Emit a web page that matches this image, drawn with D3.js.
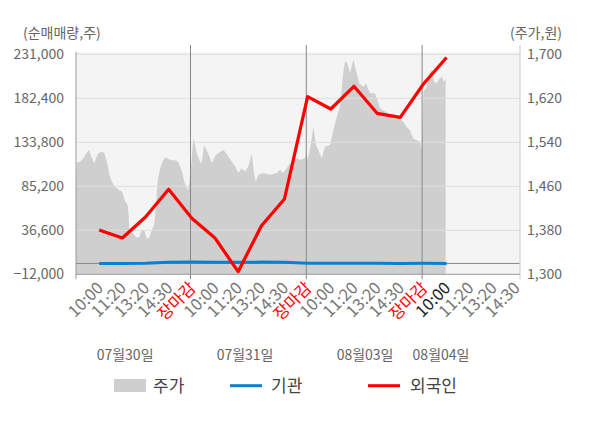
<!DOCTYPE html>
<html><head><meta charset="utf-8">
<script src="https://cdn.jsdelivr.net/npm/d3@7"></script>
<style>
body{margin:0;background:#fff;}
svg{font-family:"Noto Sans CJK KR","Noto Sans",sans-serif;}
</style></head>
<body>
<svg id="c" width="600" height="428"></svg>
<script>
// ---- data ----
const timeLabels = ["10:00","11:20","13:20","14:30","장마감","10:00","11:20","13:20","14:30","장마감","10:00","11:20","13:20","14:30","장마감","10:00","11:20","13:20","14:30"];
const dateLabels = ["07월30일","07월31일","08월03일","08월04일"];
const dateLabelPos = [2.12, 7.3, 12.48, 15.76];
const daySeparators = [5, 10, 15];
const foreignNet = [36900, 28100, 51300, 81900, 49850, 28100, -9100, 41350, 71170, 184160, 170570, 195650, 165820, 161410, 198200, 227500];
const instNet = [-200, 0, 100, 1300, 1500, 1400, 1200, 1500, 1300, 300, 200, 200, 100, 0, 100, 0];
const leftTicks = [-12000, 36600, 85200, 133800, 182400, 231000];
const rightTicks = [1300, 1380, 1460, 1540, 1620, 1700];
const priceU = [0,0.04,0.17,0.26,0.35,0.43,0.56,0.65,0.79,0.89,0.99,1.08,1.22,1.37,1.44,1.55,1.65,1.8,1.99,2.13,2.23,2.28,2.3,2.45,2.59,2.73,2.81,2.95,3.05,3.16,3.28,3.38,3.45,3.53,3.63,3.74,3.86,4,4.2,4.32,4.43,4.58,4.68,4.82,4.89,
 5,5.06,5.14,5.21,5.35,5.43,5.53,5.64,5.76,5.86,6,6.14,6.36,6.43,6.58,6.72,6.87,7.01,7.15,7.3,7.44,7.59,7.69,7.76,7.87,8.09,8.38,8.67,8.81,8.92,9.1,9.24,9.38,9.53,9.67,9.88,9.96,
 10,10.1,10.25,10.36,10.46,10.61,10.75,10.97,11.11,11.26,11.4,11.52,11.61,11.71,11.83,11.97,12.09,12.23,12.41,12.52,12.69,12.91,13.13,13.34,13.56,13.77,13.99,14.13,14.28,14.42,14.56,14.71,14.85,14.93,
 15,15.14,15.25,15.35,15.46,15.57,15.69,15.8,15.87,15.96];
const priceV = [1473,1504,1504,1508,1513,1519,1526,1515,1502,1514,1521,1523,1521,1499,1481,1468,1461,1455,1450,1432,1426,1405,1377,1375,1368,1367,1379,1379,1365,1366,1381,1390,1423,1471,1493,1505,1513,1509,1507,1508,1502,1487,1468,1453,1465,
 1511,1547,1535,1520,1505,1502,1535,1526,1514,1502,1514,1520,1526,1523,1514,1505,1496,1484,1493,1487,1496,1520,1481,1468,1481,1484,1481,1484,1490,1484,1493,1502,1505,1511,1508,1511,1520,
 1508,1526,1568,1535,1526,1511,1532,1535,1562,1587,1605,1659,1687,1684,1665,1690,1671,1647,1641,1647,1629,1629,1602,1596,1590,1584,1584,1577,1568,1562,1547,1544,1541,1526,
 1632,1641,1665,1671,1650,1647,1656,1659,1650,1655];

// ---- layout ----
const L = 76, R = 520, T = 54.3, B = 274.3;
const svg = d3.select("#c");
const x = d3.scaleLinear().domain([0, 19.17]).range([L, R]);
const yL = d3.scaleLinear().domain([-12000, 231000]).range([B, T]);
const yR = d3.scaleLinear().domain([1300, 1700]).range([B, T]);
const txt = "#666";

svg.append("rect").attr("x", L).attr("y", 52).attr("width", R - L).attr("height", B - 52).attr("fill", "#f4f4f4");

// price area
const price = priceU.map((u, i) => ({u, v: priceV[i]}));
svg.append("path").datum(price)
  .attr("fill", "#cfcfcf")
  .attr("d", d3.area().x(d => x(d.u)).y0(B).y1(d => yR(d.v)));

// gridlines
svg.append("g").selectAll("line").data(leftTicks.slice(1)).join("line")
  .attr("x1", L).attr("x2", R).attr("y1", d => yL(d)).attr("y2", d => yL(d))
  .attr("stroke", "#dedede").attr("stroke-width", 1);

// zero line
svg.append("line").attr("x1", L).attr("x2", R).attr("y1", yL(0)).attr("y2", yL(0)).attr("stroke", "#888");

// day separators
svg.append("g").selectAll("line").data(daySeparators).join("line")
  .attr("x1", d => x(d) - 1.3).attr("x2", d => x(d) - 1.3).attr("y1", 45).attr("y2", B + 5)
  .attr("stroke", "#888");

// axes lines
svg.append("line").attr("x1", L).attr("x2", L).attr("y1", 52).attr("y2", B + 5).attr("stroke", "#999");
svg.append("line").attr("x1", R).attr("x2", R).attr("y1", 45).attr("y2", B + 5).attr("stroke", "#ccc");
svg.append("line").attr("x1", L).attr("x2", R).attr("y1", B).attr("y2", B).attr("stroke", "#999");

// left axis labels
svg.append("g").selectAll("text").data(leftTicks).join("text")
  .attr("x", 64).attr("y", d => yL(d)).attr("dy", "0.35em").attr("text-anchor", "end")
  .attr("fill", txt).attr("font-size", 14).text(d => d3.format(",")(d));
svg.append("g").selectAll("text").data(rightTicks).join("text")
  .attr("x", 527).attr("y", d => yR(d)).attr("dy", "0.35em").attr("text-anchor", "start")
  .attr("fill", txt).attr("font-size", 14).text(d => d3.format(",")(d));
svg.append("text").attr("x", 23).attr("y", 38).attr("fill", txt).attr("font-size", 14).text("(순매매량,주)");
svg.append("text").attr("x", 562).attr("y", 38).attr("text-anchor", "end").attr("fill", txt).attr("font-size", 14).text("(주가,원)");

// lines
const lineGen = d3.line().x((d, i) => x(i + 1)).y(d => yL(d));
svg.append("path").datum(instNet).attr("fill", "none").attr("stroke", "#0a80d0").attr("stroke-width", 3).attr("d", lineGen);
svg.append("path").datum(foreignNet).attr("fill", "none").attr("stroke", "#ff0000").attr("stroke-width", 3.2).attr("stroke-linejoin", "round").attr("d", lineGen);

// x labels
svg.append("g").selectAll("text").data(timeLabels).join("text")
  .attr("transform", (d, i) => `translate(${x(i + 1) + 5},${289}) rotate(-45)`)
  .attr("text-anchor", "end")
  .attr("font-size", 16.5)
  .attr("fill", (d, i) => d === "장마감" ? "#ff0000" : (i === 15 ? "#222" : "#777"))
  .text(d => d);

svg.append("g").selectAll("text").data(dateLabels).join("text")
  .attr("x", (d, i) => x(dateLabelPos[i])).attr("y", 360).attr("text-anchor", "middle")
  .attr("fill", txt).attr("font-size", 14).text(d => d);

// legend
const lg = svg.append("g");
lg.append("rect").attr("x", 114).attr("y", 379).attr("width", 32).attr("height", 13).attr("fill", "#cfcfcf");
lg.append("text").attr("x", 153).attr("y", 392).attr("font-size", 17).attr("fill", "#444").text("주가");
lg.append("line").attr("x1", 230).attr("x2", 262).attr("y1", 385.7).attr("y2", 385.7).attr("stroke", "#0a80d0").attr("stroke-width", 3);
lg.append("text").attr("x", 271).attr("y", 392).attr("font-size", 17).attr("fill", "#444").text("기관");
lg.append("line").attr("x1", 368).attr("x2", 400).attr("y1", 385.7).attr("y2", 385.7).attr("stroke", "#ff0000").attr("stroke-width", 3);
lg.append("text").attr("x", 410).attr("y", 392).attr("font-size", 17).attr("fill", "#444").text("외국인");
</script>
</body></html>
